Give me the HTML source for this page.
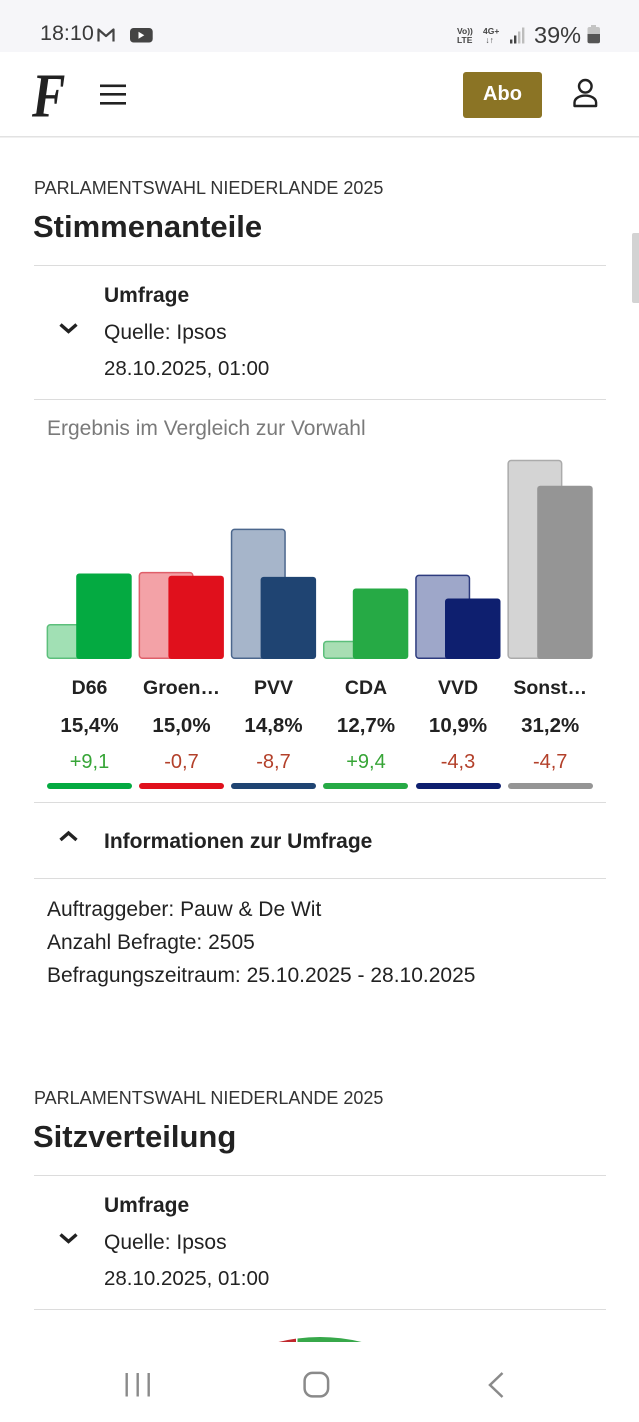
<!DOCTYPE html>
<html>
<head>
<meta charset="utf-8">
<style>
  html,body{margin:0;padding:0;background:#fff;overflow:hidden;}
  #p{position:relative;width:639px;height:1422px;overflow:hidden;background:#fff;font-family:"Liberation Sans",Arial,sans-serif;color:#222;}
  .t{position:absolute;white-space:nowrap;line-height:1;}
  .b{font-weight:bold;}
  .hr{position:absolute;left:34px;width:572px;height:1px;background:#dcdcdc;}
  .c{position:absolute;width:85px;text-align:center;white-space:nowrap;line-height:1;}
  .ul{position:absolute;top:782.5px;width:85px;height:6px;border-radius:3px;}
</style>
</head>
<body>
<div id="p">
  <!-- status bar -->
  <div style="position:absolute;left:0;top:0;width:639px;height:52px;background:#f6f6f9;"></div>
  <div class="t" style="left:40px;top:23.4px;font-size:21.5px;color:#3a3a3a;">18:10</div>
  <div class="t" style="left:457px;top:27px;font-size:8.5px;font-weight:bold;color:#444;line-height:8.5px;">Vo))<br>LTE</div>
  <div class="t" style="left:483px;top:27px;font-size:8.5px;font-weight:bold;color:#444;line-height:8.5px;">4G+<br>&nbsp;↓↑</div>
  <div class="t" style="left:534px;top:24px;font-size:23.5px;color:#3a3a3a;">39%</div>

  <svg style="position:absolute;left:0;top:0" width="639" height="1342">
    <!-- gmail M -->
    <path d="M98.5 41.5 V29.5 L106 36 L113.5 29.5 V41.5" fill="none" stroke="#444" stroke-width="2.2" stroke-linejoin="round"/>
    <!-- youtube -->
    <rect x="130" y="28" width="22.7" height="14.5" rx="3.5" fill="#444"/>
    <polygon points="138.5,31.8 138.5,38.8 144.3,35.3" fill="#fff"/>
    <!-- signal -->
    <rect x="510" y="39.5" width="2.4" height="4" fill="#444"/>
    <rect x="514" y="35.5" width="2.4" height="8" fill="#444"/>
    <rect x="518" y="31.5" width="2.4" height="12" fill="#bdbdbd"/>
    <rect x="522" y="27.5" width="2.4" height="16" fill="#bdbdbd"/>
    <!-- battery -->
    <rect x="591" y="25" width="5" height="2.5" fill="#c4c4c4"/>
    <rect x="587.5" y="27" width="12.5" height="16.3" rx="2" fill="#c4c4c4"/>
    <path d="M587.5 34 H600 V41.3 a2 2 0 0 1 -2 2 H589.5 a2 2 0 0 1 -2 -2 Z" fill="#555"/>

    <!-- hamburger -->
    <rect x="100" y="84.5" width="26" height="2.6" fill="#222"/>
    <rect x="100" y="93" width="26" height="2.6" fill="#222"/>
    <rect x="100" y="102" width="26" height="2.6" fill="#222"/>
    <!-- user icon -->
    <circle cx="585.3" cy="86.3" r="6.3" fill="none" stroke="#222" stroke-width="2.4"/>
    <path d="M574.5 106 V102.5 a10.8 7 0 0 1 21.6 0 V106 Z" fill="none" stroke="#222" stroke-width="2.4" stroke-linejoin="round"/>

    <!-- chevrons -->
    <polyline points="60.5,324.5 68.5,331.5 76.5,324.5" fill="none" stroke="#222" stroke-width="3.4"/>
    <polyline points="60.5,840 68.5,833 76.5,840" fill="none" stroke="#222" stroke-width="3.4"/>
    <polyline points="60.5,1234.5 68.5,1241.5 76.5,1234.5" fill="none" stroke="#222" stroke-width="3.4"/>

    <!-- bars: old (lighter, outlined) -->
    <rect x="47.35" y="624.75" width="53.5" height="33.5" rx="3" fill="#a1e0b4" stroke="#5cbf7b" stroke-width="1.5"/>
    <rect x="139.35" y="572.65" width="53.5" height="85.6" rx="3" fill="#f3a2a7" stroke="#df5f69" stroke-width="1.5"/>
    <rect x="231.55" y="529.35" width="53.5" height="128.9" rx="3" fill="#a6b5ca" stroke="#4c678d" stroke-width="1.5"/>
    <rect x="323.75" y="641.45" width="53.5" height="16.8" rx="3" fill="#a8deb3" stroke="#5cbf7b" stroke-width="1.5"/>
    <rect x="415.95" y="575.35" width="53.5" height="82.9" rx="3" fill="#9ea7c9" stroke="#2d3b7e" stroke-width="1.5"/>
    <rect x="508.15" y="460.55" width="53.5" height="197.7" rx="3" fill="#d4d4d4" stroke="#ababab" stroke-width="1.5"/>
    <!-- bars: new -->
    <rect x="76.2" y="573.5" width="55.5" height="85.5" rx="3" fill="#04aa41"/>
    <rect x="168.4" y="575.7" width="55.5" height="83.3" rx="3" fill="#e0101c"/>
    <rect x="260.6" y="576.9" width="55.5" height="82.1" rx="3" fill="#1f4472"/>
    <rect x="352.8" y="588.5" width="55.5" height="70.5" rx="3" fill="#26aa45"/>
    <rect x="445.0" y="598.5" width="55.5" height="60.5" rx="3" fill="#0e1f6f"/>
    <rect x="537.2" y="485.8" width="55.5" height="173.2" rx="3" fill="#959595"/>

    <!-- partial parliament arc (visible sliver only) -->
    <path d="M278.4 1342 A176 176 0 0 1 296 1338.64 L296 1342 Z" fill="#c0282d"/>
    <path d="M297.5 1342 L297.5 1338.44 A176 176 0 0 1 361.6 1342 Z" fill="#37a84a"/>
  </svg>

  <!-- header -->
  <div class="t" style="left:32px;top:64px;font-family:'Liberation Serif',serif;font-weight:bold;font-style:italic;font-size:50px;color:#222;transform:scaleY(1.25);transform-origin:top left;">F</div>
  <div style="position:absolute;left:462.7px;top:71.7px;width:79.6px;height:46px;background:#8b7425;border-radius:3px;"></div>
  <div class="t b" style="left:462.7px;top:84px;width:79.6px;text-align:center;font-size:20px;color:#fff;">Abo</div>
  <div style="position:absolute;left:0;top:135.5px;width:639px;height:1px;background:#e2e2e2;"></div>
  <div style="position:absolute;left:0;top:136.5px;width:639px;height:1.5px;background:#f0f0f0;"></div>

  <!-- scrollbar -->
  <div style="position:absolute;left:632px;top:233px;width:7px;height:70px;background:#d3d3d3;border-radius:2px 0 0 2px;"></div>

  <!-- section 1 -->
  <div class="t" style="left:34px;top:178.7px;font-size:18px;color:#333;">PARLAMENTSWAHL NIEDERLANDE 2025</div>
  <div class="t b" style="left:33px;top:210.6px;font-size:31px;color:#222;">Stimmenanteile</div>
  <div class="hr" style="top:265px;"></div>
  <div class="t b" style="left:104px;top:285.2px;font-size:21px;">Umfrage</div>
  <div class="t" style="left:104px;top:322.2px;font-size:21px;">Quelle: Ipsos</div>
  <div class="t" style="left:104px;top:358.6px;font-size:20.5px;">28.10.2025, 01:00</div>
  <div class="hr" style="top:399px;"></div>
  <div class="t" style="left:47px;top:418.2px;font-size:21px;color:#7a7a7a;">Ergebnis im Vergleich zur Vorwahl</div>

  <!-- labels -->
  <div class="c b" style="left:47px;top:679.1px;font-size:19.5px;">D66</div>
  <div class="c b" style="left:139px;top:679.1px;font-size:19.5px;">Groen…</div>
  <div class="c b" style="left:231px;top:679.1px;font-size:19.5px;">PVV</div>
  <div class="c b" style="left:323.5px;top:679.1px;font-size:19.5px;">CDA</div>
  <div class="c b" style="left:415.5px;top:679.1px;font-size:19.5px;">VVD</div>
  <div class="c b" style="left:507.7px;top:679.1px;font-size:19.5px;">Sonst…</div>

  <div class="c b" style="left:47px;top:715.9px;font-size:20.5px;">15,4%</div>
  <div class="c b" style="left:139px;top:715.9px;font-size:20.5px;">15,0%</div>
  <div class="c b" style="left:231px;top:715.9px;font-size:20.5px;">14,8%</div>
  <div class="c b" style="left:323.5px;top:715.9px;font-size:20.5px;">12,7%</div>
  <div class="c b" style="left:415.5px;top:715.9px;font-size:20.5px;">10,9%</div>
  <div class="c b" style="left:507.7px;top:715.9px;font-size:20.5px;">31,2%</div>

  <div class="c" style="left:47px;top:751.5px;font-size:20px;color:#37a537;">+9,1</div>
  <div class="c" style="left:139px;top:751.5px;font-size:20px;color:#b3402a;">-0,7</div>
  <div class="c" style="left:231px;top:751.5px;font-size:20px;color:#b3402a;">-8,7</div>
  <div class="c" style="left:323.5px;top:751.5px;font-size:20px;color:#37a537;">+9,4</div>
  <div class="c" style="left:415.5px;top:751.5px;font-size:20px;color:#b3402a;">-4,3</div>
  <div class="c" style="left:507.7px;top:751.5px;font-size:20px;color:#b3402a;">-4,7</div>

  <div class="ul" style="left:46.7px;background:#04aa41;"></div>
  <div class="ul" style="left:139px;background:#e0101c;"></div>
  <div class="ul" style="left:231.2px;background:#1f4472;"></div>
  <div class="ul" style="left:323.4px;background:#26aa45;"></div>
  <div class="ul" style="left:415.6px;background:#0e1f6f;"></div>
  <div class="ul" style="left:507.8px;background:#959595;"></div>

  <div class="hr" style="top:802px;"></div>
  <div class="t b" style="left:104px;top:830.5px;font-size:21px;">Informationen zur Umfrage</div>
  <div class="hr" style="top:878px;"></div>
  <div class="t" style="left:47px;top:898.9px;font-size:21px;">Auftraggeber: Pauw &amp; De Wit</div>
  <div class="t" style="left:47px;top:931.9px;font-size:21px;">Anzahl Befragte: 2505</div>
  <div class="t" style="left:47px;top:964.9px;font-size:21px;">Befragungszeitraum: 25.10.2025 - 28.10.2025</div>

  <!-- section 2 -->
  <div class="t" style="left:34px;top:1088.7px;font-size:18px;color:#333;">PARLAMENTSWAHL NIEDERLANDE 2025</div>
  <div class="t b" style="left:33px;top:1120.6px;font-size:31px;color:#222;">Sitzverteilung</div>
  <div class="hr" style="top:1175px;"></div>
  <div class="t b" style="left:104px;top:1195.2px;font-size:21px;">Umfrage</div>
  <div class="t" style="left:104px;top:1232.2px;font-size:21px;">Quelle: Ipsos</div>
  <div class="t" style="left:104px;top:1268.6px;font-size:20.5px;">28.10.2025, 01:00</div>
  <div class="hr" style="top:1309px;"></div>

  <!-- bottom nav -->
  <div style="position:absolute;left:0;top:1342px;width:639px;height:80px;background:#fff;"></div>
  <svg style="position:absolute;left:0;top:1342px" width="639" height="80">
    <rect x="125.5" y="31" width="2.4" height="23.5" fill="#8a8a8a"/>
    <rect x="136.5" y="31" width="2.4" height="23.5" fill="#8a8a8a"/>
    <rect x="147.5" y="31" width="2.4" height="23.5" fill="#8a8a8a"/>
    <rect x="304.6" y="30.9" width="23.5" height="23.5" rx="8" fill="none" stroke="#8a8a8a" stroke-width="2.5"/>
    <polyline points="502.5,31 490,43 502.5,55" fill="none" stroke="#8a8a8a" stroke-width="2.5"/>
  </svg>
</div>
</body>
</html>
